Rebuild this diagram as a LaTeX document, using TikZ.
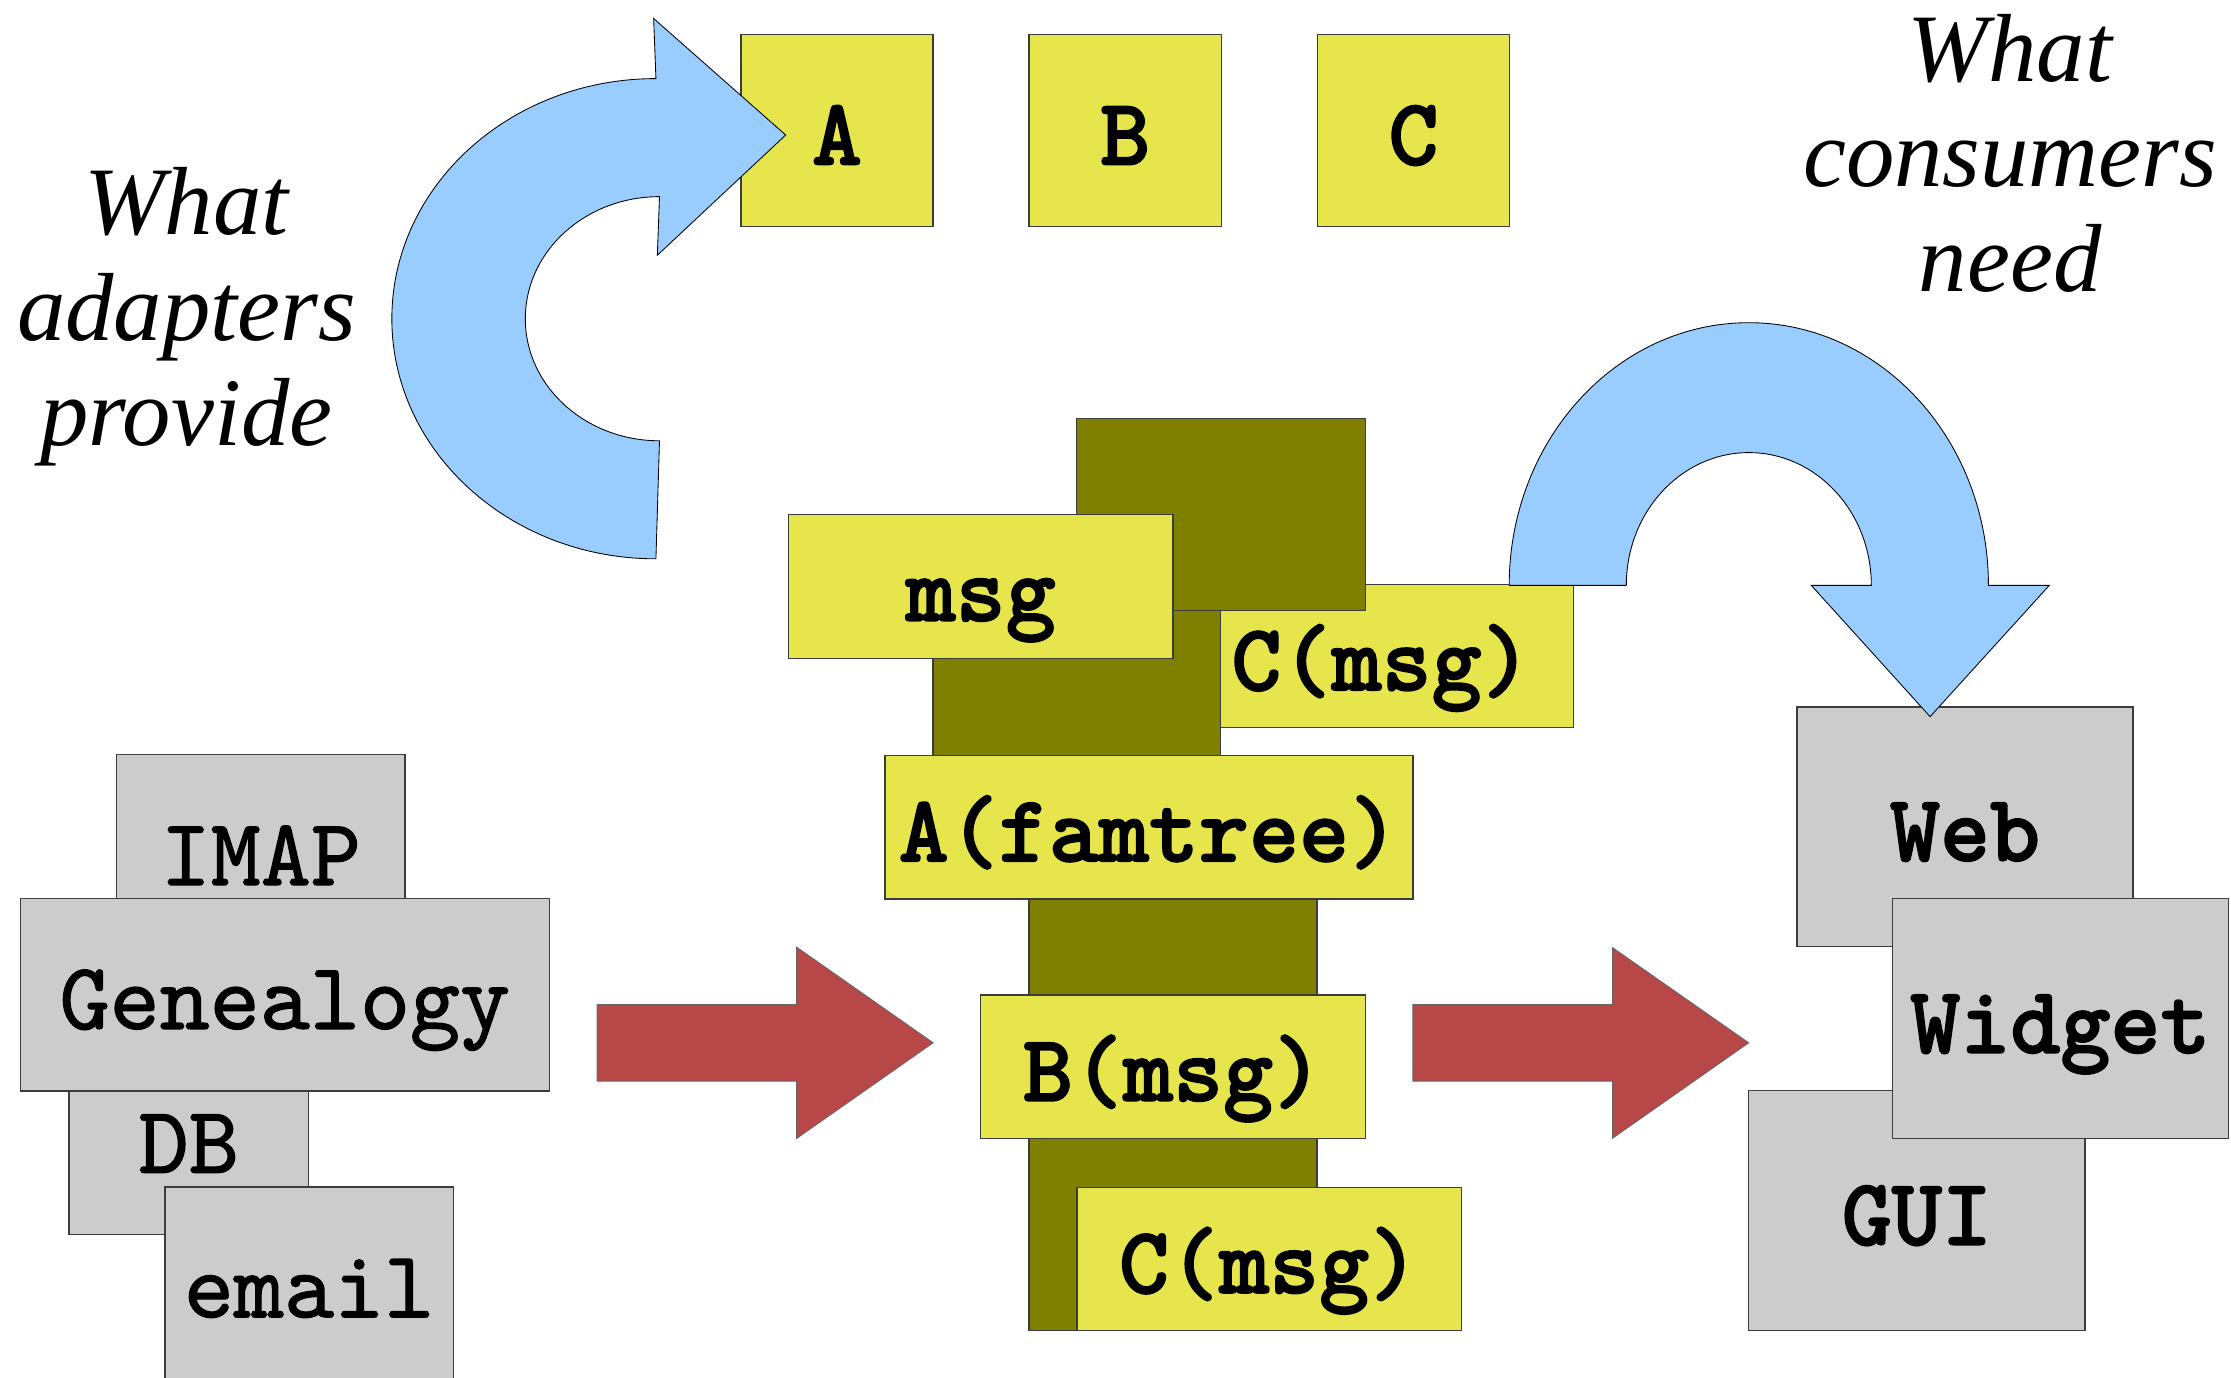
\documentclass[tikz,border=0pt]{standalone}
\usepackage{fontspec}
\newfontfamily\boxmono{lmmonolt10-bold.otf}[FakeBold=1.6]
\newfontfamily\boxmonomid{lmmono10-regular.otf}[FakeBold=1.3]
\newfontfamily\noteserif{Liberation Serif}
\definecolor{ylw}{HTML}{E6E64C}
\definecolor{olv}{HTML}{808000}
\definecolor{gry}{HTML}{CCCCCC}
\definecolor{skyblue}{HTML}{99CCFF}
\definecolor{brick}{HTML}{B84747}
\definecolor{edge}{HTML}{3C3C3C}
\tikzset{
  panel/.style={draw=edge, line width=0.9pt, inner sep=0pt, outer sep=0pt,
    text height=48pt, text depth=0pt,
    font=\fontsize{67}{78}\selectfont\boxmono},
  ybox/.style={panel, fill=ylw},
  obox/.style={panel, fill=olv},
  gbox/.style={panel, fill=gry},
  gboxlite/.style={gbox, font=\fontsize{67}{78}\selectfont\boxmonomid},
  sz/.style 2 args={minimum width=#1pt, minimum height=#2pt},
  bluearrow/.style={fill=skyblue, draw=black, line width=0.6pt},
  redarrow/.style={fill=brick, draw=black!60, line width=0.6pt},
  note/.style={font=\fontsize{68}{74}\selectfont\noteserif\itshape,
    align=center, inner sep=0pt, anchor=north}
}
\begin{document}
\begin{tikzpicture}[x=1pt, y=1pt, yscale=-1]
\useasboundingbox (0,0) rectangle (1568,968);
\clip (0,0) rectangle (1568,968);

% interface boxes along the top
\node[ybox, sz={135.1}{134.7}] (boxA) at (588.25,91.75) {A};
\node[ybox, sz={135.1}{134.7}] (boxB) at (790.8,91.75) {B};
\node[ybox, sz={135.1}{134.7}] (boxC) at (993.45,91.75) {C};

% curved arrow into A
\draw[bluearrow] (461,55.25)
  arc[start angle=270, end angle=90, x radius=185.6, y radius=168.75]
  -- (463.5,309.8)
  arc[start angle=90, end angle=270, x radius=94.3, y radius=85.8]
  -- (462,179.4) -- (552.2,94.9) -- (459.4,13) -- cycle;

% sources on the left
\node[gboxlite, sz={202.6}{135}] (imap) at (183.3,598) {IMAP};
\node[gboxlite, sz={168.6}{135}] (db) at (132.7,800.2) {DB};
\node[gboxlite, sz={371.5}{135.1}] (genea) at (200.25,699.15) {Genealogy};
\node[gboxlite, sz={202.5}{135}] (email) at (217.25,901.8) {email};

% adapter stack in the middle
\node[ybox, sz={270}{100.3}] (cmsgup) at (971,461.15) {C(msg)};
\node[obox, sz={202.1}{135}] (olv2) at (756.85,496.8) {};
\node[obox, sz={202.9}{135}] (olv1) at (858.15,361.8) {};
\node[ybox, sz={270.3}{101.2}] (msg) at (689.25,412.4) {msg};
\node[obox, sz={202.5}{335.2}] (olvcol) at (824.45,767.6) {};
\node[ybox, sz={371.2}{100.9}] (afam) at (807.5,581.45) {A(famtree)};
\node[ybox, sz={270.3}{100.9}] (bmsg) at (824.45,749.75) {B(msg)};
\node[ybox, sz={270}{100.8}] (cmsg) at (892,884.8) {C(msg)};

% flow arrows
\draw[redarrow] (419.6,706) -- (559.8,706) -- (559.8,665.6) -- (655.8,732.9)
  -- (559.8,800.2) -- (559.8,759.8) -- (419.6,759.8) -- cycle;
\draw[redarrow] (993,706) -- (1133.3,706) -- (1133.3,666) -- (1229,732.9)
  -- (1133.3,800) -- (1133.3,759.8) -- (993,759.8) -- cycle;

% consumers on the right
\node[gbox, sz={236.2}{168.2}] (web) at (1381.1,581) {Web};
\node[gbox, sz={236.2}{168.7}] (gui) at (1347.2,850.85) {GUI};
\node[gbox, sz={236.2}{168.7}] (widget) at (1448.1,716.05) {Widget};

% curved arrow from C(msg) down to Web
\draw[bluearrow] (1143,411.4) -- (1060.7,411.4)
  arc[start angle=180, end angle=360, x radius=168.4, y radius=184.6]
  -- (1440.3,411.4) -- (1356.5,503.7) -- (1273,411.4) -- (1315.2,411.4)
  arc[start angle=0, end angle=-180, x radius=86.1, y radius=93.3] -- cycle;

% captions
\node[note] (provide) at (131,117.6) {What\\adapters\\provide};
\node[note] (need) at (1412.7,9.6) {What\\consumers\\need};
\end{tikzpicture}
\end{document}
